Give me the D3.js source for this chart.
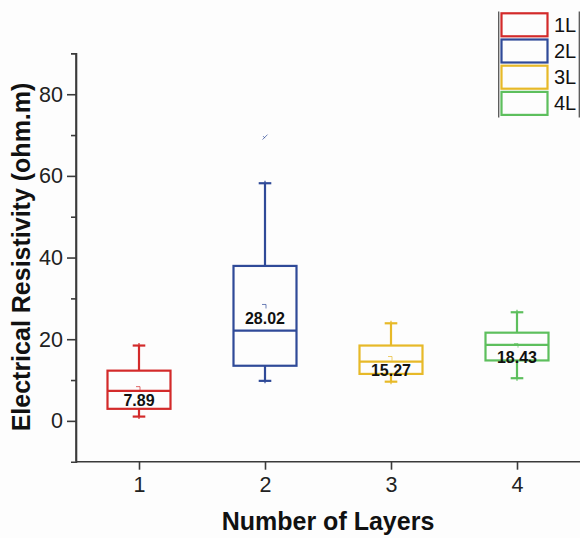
<!DOCTYPE html>
<html>
<head>
<meta charset="utf-8">
<script src="https://cdn.jsdelivr.net/npm/d3@7"></script>
<style>
  html, body { margin: 0; padding: 0; background: #fdfdfd; }
  svg { display: block; }
</style>
</head>
<body>
<svg id="chart" width="580" height="538"></svg>
<script>
// Box statistics per number of layers (ohm.m)
const layers      = [1, 2, 3, 4];
const legendNames = ["1L", "2L", "3L", "4L"];
const colors      = ["#d32a2a", "#2f4a98", "#e7b928", "#5dbf5d"];
const whiskerLow  = [1.05, 9.8, 9.6, 10.45];
const q1          = [2.95, 13.5, 11.5, 14.8];
const medians     = [7.35, 22.1, 14.5, 18.6];
const q3          = [12.3, 37.95, 18.45, 21.6];
const whiskerHigh = [18.45, 58.2, 23.9, 26.6];
const means       = [7.89, 28.02, 15.27, 18.43];
const outliers    = [[], [69.5], [], []];
const yTicks      = [0, 20, 40, 60, 80];
const yMinor      = [10, 30, 50, 70];

const svg = d3.select("#chart");
const font = "'Liberation Sans', Arial, Helvetica, sans-serif";
const axisColor = "#3a3a3a";

const x = d3.scaleLinear().domain([0.5, 4.5]).range([76, 580]);
const y = d3.scaleLinear().domain([-10, 90]).range([461.7, 53.4]);

const boxW = x(1.25) - x(1);      // half of a 0.5-wide box
const capW = x(1.05) - x(1);

// Axes
const yAxis = d3.axisLeft(y).tickValues(yTicks).tickSize(9).tickPadding(4);
const yAxisMinor = d3.axisLeft(y).tickValues(yMinor).tickSize(5).tickFormat("");
const xAxis = d3.axisBottom(x).tickValues(layers).tickSize(8).tickPadding(7).tickFormat(d3.format("d"));

function styleAxis(g) {
  g.select(".domain").attr("stroke", axisColor).attr("stroke-width", 1.6);
  g.selectAll(".tick line").attr("stroke", axisColor).attr("stroke-width", 1.6);
  g.selectAll(".tick text").attr("fill", "#222")
    .attr("font-family", font).attr("font-size", 21.5);
}

svg.append("g").attr("transform", `translate(${x(0.5)},0)`).call(yAxisMinor).call(styleAxis);
svg.append("g").attr("transform", `translate(${x(0.5)},0)`).call(yAxis).call(styleAxis)
  .call(g => g.select(".domain").attr("d", `M0,${y(-10)}V${y(90)}`));
svg.append("g").attr("transform", `translate(0,${y(-10)})`).call(xAxis).call(styleAxis)
  .call(g => g.select(".domain").attr("d", `M${x(0.5)},0H${x(4.5)}`));

// Boxes
layers.forEach((L, i) => {
  const g = svg.append("g").attr("stroke", colors[i]).attr("fill", "none").attr("stroke-width", 2.2);
  const cx = x(L);
  // whiskers
  g.append("line").attr("x1", cx).attr("x2", cx).attr("y1", y(q3[i])).attr("y2", y(whiskerHigh[i]));
  g.append("line").attr("x1", cx).attr("x2", cx).attr("y1", y(q1[i])).attr("y2", y(whiskerLow[i]));
  [whiskerHigh[i], whiskerLow[i]].forEach(v => {
    g.append("line").attr("x1", cx - capW).attr("x2", cx + capW).attr("y1", y(v)).attr("y2", y(v));
    g.append("line").attr("x1", cx).attr("x2", cx).attr("y1", y(v) - 2.5).attr("y2", y(v) + 2.5)
      .attr("stroke-width", 1.2);
  });
  // box and median
  g.append("rect").attr("x", cx - boxW).attr("y", y(q3[i]))
    .attr("width", 2 * boxW).attr("height", y(q1[i]) - y(q3[i]))
    .attr("fill", "#fdfdfd");
  g.append("line").attr("x1", cx - boxW).attr("x2", cx + boxW)
    .attr("y1", y(medians[i])).attr("y2", y(medians[i]));
  // mean marker
  g.append("path")
    .attr("d", `M${cx - 3},${y(means[i]) - 2}H${cx + 1}V${y(means[i]) + 2}`)
    .attr("stroke-width", 1).attr("opacity", 0.7);
  // outliers
  outliers[i].forEach(v => {
    g.append("path")
      .attr("d", `M${cx - 2.5},${y(v) + 2.5}L${cx + 2.5},${y(v) - 2.5}M${cx - 2},${y(v) - 1}L${cx},${y(v) + 1}`)
      .attr("stroke-width", 1).attr("opacity", 0.7);
  });
  // mean value label
  svg.append("text").attr("x", cx).attr("y", y(means[i]) + 12)
    .attr("text-anchor", "middle").attr("dominant-baseline", "central")
    .attr("font-family", font).attr("font-weight", "bold").attr("font-size", 16)
    .attr("fill", "#111").text(means[i].toFixed(2));
});

// Axis titles
svg.append("text").attr("x", (x(0.5) + x(4.5)) / 2).attr("y", 530)
  .attr("text-anchor", "middle")
  .attr("font-family", font).attr("font-weight", "bold").attr("font-size", 25)
  .attr("fill", "#111").text("Number of Layers");
svg.append("text").attr("transform", "translate(30,257) rotate(-90)")
  .attr("text-anchor", "middle")
  .attr("font-family", font).attr("font-weight", "bold").attr("font-size", 25)
  .attr("fill", "#111").text("Electrical Resistivity (ohm.m)");

// Legend
const leg = svg.append("g");
leg.append("line").attr("x1", 498.7).attr("x2", 498.7).attr("y1", 11.5).attr("y2", 117.5)
  .attr("stroke", "#555").attr("stroke-width", 1.3);
leg.append("line").attr("x1", 579.3).attr("x2", 579.3).attr("y1", 11.5).attr("y2", 117.5)
  .attr("stroke", "#555").attr("stroke-width", 1.3);
legendNames.forEach((name, i) => {
  const top = 13.3 + i * 26.2;
  leg.append("rect").attr("x", 501.5).attr("y", top).attr("width", 46).attr("height", 23)
    .attr("fill", "none").attr("stroke", colors[i]).attr("stroke-width", 2.2);
  leg.append("text").attr("x", 554).attr("y", top + 11.5).attr("dominant-baseline", "central")
    .attr("font-family", font).attr("font-size", 20).attr("fill", "#111").text(name);
});
</script>
</body>
</html>
